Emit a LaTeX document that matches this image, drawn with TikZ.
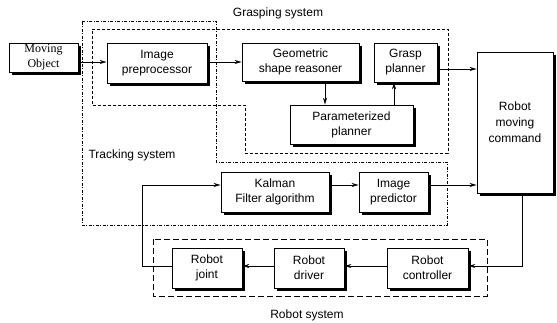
\documentclass[tikz,border=0pt]{standalone}
\usepackage{fontspec}
\setmainfont{Liberation Sans}
\newfontfamily\moserif{Liberation Serif}
\usetikzlibrary{arrows.meta,calc}

\begin{document}
\begin{tikzpicture}[x=1pt,y=-1pt,
  blk/.style={draw, fill=white, align=center, inner sep=0pt, line width=0.8pt},
  shadowline/.style={line width=0.7pt},
  arr/.style={-{Stealth[length=7pt,width=4pt]}, line width=0.6pt},
  grasp/.style={dash pattern=on 3pt off 2pt, line width=0.5pt},
  track/.style={dash pattern=on 3pt off 1.5pt on 1pt off 1.5pt, line width=0.5pt},
  robsys/.style={dash pattern=on 6pt off 3pt, line width=0.5pt},
  font=\fontsize{12}{15}\selectfont]
\useasboundingbox (0,0) rectangle (557,323);

%regions
\draw[track] (82,21) -- (216,21) -- (216,162) -- (447,162) -- (447,225) -- (82,225) -- cycle; %tracking
\draw[grasp] (92,29) -- (448,29) -- (448,153) -- (245,153) -- (245,105) -- (92,105) -- cycle; %grasping
\draw[robsys] (153,239) rectangle (487,296); %robot system
\node (lgrasp) at (278,13) {Grasping system};
\node (ltrack) at (132,155) {Tracking system};
\node (lrob) at (307,315) {Robot system};

%blocks
\node[blk, minimum width=69pt, minimum height=29pt, font=\moserif\fontsize{12}{15}\selectfont] (mo) at (43.5,57.5) {Moving\\Object};
\node[blk, minimum width=100pt, minimum height=40pt] (ip) at (157,63) {Image\\preprocessor};
\node[blk, minimum width=117pt, minimum height=38pt] (gsr) at (300.5,62) {Geometric\\shape reasoner};
\node[blk, minimum width=63pt, minimum height=39pt] (gp) at (405.5,62.5) {Grasp\\planner};
\node[blk, minimum width=123pt, minimum height=39pt] (pp) at (351.5,124.5) {Parameterized\\planner};
\node[blk, minimum width=76pt, minimum height=141pt, font=\fontsize{12}{16}\selectfont] (rmc) at (515,122.5) {Robot\\moving\\command};
\node[blk, minimum width=108pt, minimum height=40pt] (kf) at (275,192) {Kalman\\Filter algorithm};
\node[blk, minimum width=69pt, minimum height=40pt] (ipr) at (393.5,192) {Image\\predictor};
\node[blk, minimum width=70pt, minimum height=40pt] (rj) at (207,268) {Robot\\joint};
\node[blk, minimum width=70pt, minimum height=40pt] (rd) at (309,268) {Robot\\driver};
\node[blk, minimum width=81pt, minimum height=40pt] (rc) at (427.5,268) {Robot\\controller};

%shadows, hatched strips right and below
\foreach \n in {mo,ip,gsr,gp,pp,rmc,kf,ipr,rj,rd,rc}
  \foreach \d in {1.2,2.4}
    \draw[shadowline] ([shift={(\d,3)}]\n.north east) -- ([shift={(\d,\d)}]\n.south east) -- ([shift={(3,\d)}]\n.south west);

%connectors
\draw[arr] (mo.east |- 0,62) -- (ip.west |- 0,62);
\draw[arr] (ip.east |- 0,62) -- (gsr.west |- 0,62);
\draw[arr] (gsr.south -| 325,0) -- (pp.north -| 325,0);
\draw[arr] (pp.north -| 394,0) -- (gp.south -| 394,0);
\draw[arr] (gp.east |- 0,69) -- (rmc.west |- 0,69);
\draw[arr] (kf.east |- 0,185) -- (ipr.west |- 0,185);
\draw[arr] (ipr.east |- 0,185) -- (rmc.west |- 0,185);
\draw[arr] (rmc.south -| 522,0) |- (rc.east |- 0,266);
\draw[arr] (rc.west |- 0,266) -- (rd.east |- 0,266);
\draw[arr] (rd.west |- 0,266) -- (rj.east |- 0,266);
\coordinate (fb) at (142,266);
\draw[arr] (rj.west |- 0,266) -- (fb) |- (kf.west |- 0,185);
\end{tikzpicture}
\end{document}
